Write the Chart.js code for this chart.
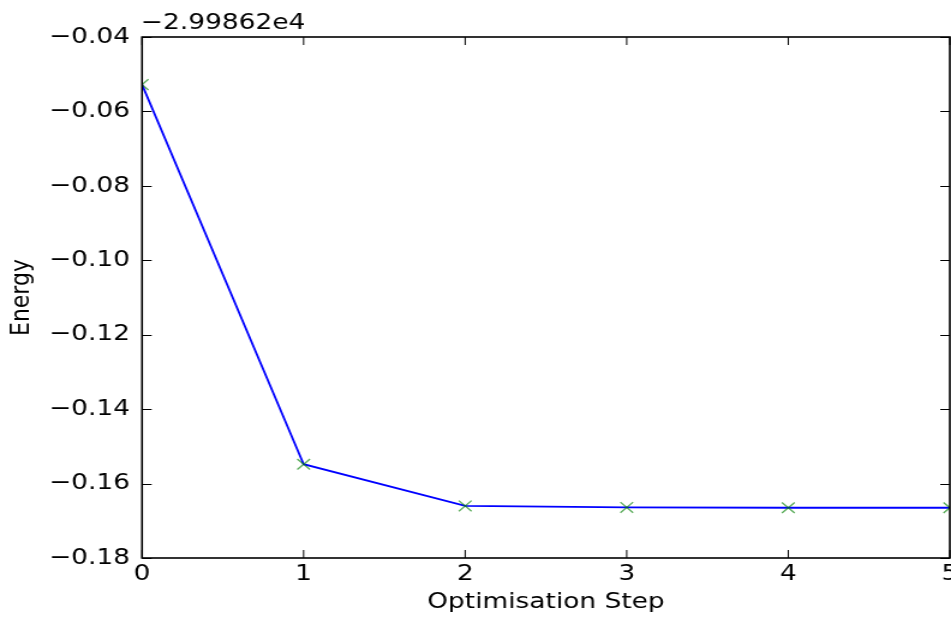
<!DOCTYPE html>
<html>
<head>
<meta charset="utf-8">
<script src="https://cdn.jsdelivr.net/npm/chart.js@4.4.1/dist/chart.umd.min.js"></script>
<style>
  html, body { margin: 0; padding: 0; background: #fff; overflow: hidden; }
  #wrap { width: 792px; height: 618px; transform: scaleX(1.2008); transform-origin: 0 0; }
  canvas { display: block; }
</style>
</head>
<body>
<div id="wrap"><canvas id="c" width="792" height="618" style="width:792px;height:618px"></canvas></div>
<script>
// ---- data ----
const steps = [0, 1, 2, 3, 4, 5];
const energy = [-0.0528, -0.1548, -0.1660, -0.1664, -0.1665, -0.1665];
const offsetText = '\u22122.99862e4';
const xTitle = 'Optimisation Step';
const yTitle = 'Energy';
const yTickMin = -0.18, yTickMax = -0.04, yTickStep = 0.02;
const xTickMin = 0, xTickMax = 5, xTickStep = 1;

const FONT = "'DejaVu Sans', sans-serif";

const frame = {
  id: 'frame',
  afterDraw(chart) {
    const { ctx, chartArea: a, scales } = chart;
    ctx.save();
    ctx.strokeStyle = '#000';
    ctx.lineWidth = 1;
    const L = 8;
    scales.y.ticks.forEach(t => {
      const y = Math.round(scales.y.getPixelForValue(t.value)) + 0.5;
      ctx.beginPath();
      ctx.moveTo(a.left, y); ctx.lineTo(a.left + L, y);
      ctx.moveTo(a.right, y); ctx.lineTo(a.right - L, y);
      ctx.stroke();
    });
    scales.x.ticks.forEach(t => {
      const x = scales.x.getPixelForValue(t.value);
      ctx.beginPath();
      ctx.moveTo(x, a.bottom); ctx.lineTo(x, a.bottom - L);
      ctx.moveTo(x, a.top); ctx.lineTo(x, a.top + L);
      ctx.stroke();
    });
    ctx.lineWidth = 1.6;
    ctx.strokeRect(a.left, a.top, a.right - a.left, a.bottom - a.top);
    ctx.fillStyle = '#000';
    ctx.font = '22px ' + FONT;
    ctx.textAlign = 'left';
    ctx.textBaseline = 'alphabetic';
    ctx.fillText(offsetText, a.left - 1, a.top - 8);
    ctx.restore();
  }
};

new Chart(document.getElementById('c'), {
  type: 'line',
  data: {
    labels: steps,
    datasets: [{
      data: steps.map((s, i) => ({ x: s, y: energy[i] })),
      borderColor: '#0000ff',
      borderWidth: 1.8,
      pointStyle: 'crossRot',
      pointRadius: 7.5,
      pointBorderColor: 'rgba(0,128,0,0.65)',
      pointBorderWidth: 1.3,
      pointBackgroundColor: 'rgba(0,0,0,0)',
      tension: 0,
      clip: 0
    }]
  },
  options: {
    responsive: false,
    animation: false,
    devicePixelRatio: 1,
    layout: { autoPadding: false, padding: { top: 37, right: 1, left: 0, bottom: 0 } },
    plugins: { legend: { display: false }, tooltip: { enabled: false } },
    scales: {
      x: {
        type: 'linear',
        min: xTickMin, max: xTickMax,
        grid: { display: false, drawTicks: false },
        border: { display: false },
        ticks: {
          stepSize: xTickStep, padding: 3, color: '#000',
          font: { family: FONT, size: 22 },
          maxRotation: 0
        },
        title: {
          display: true, text: xTitle, color: '#000',
          font: { family: FONT, size: 22 },
          padding: { top: 0, bottom: 3 }
        },
        afterFit(scale) { scale.height = 60; scale.paddingLeft = 0; scale.paddingRight = 0; }
      },
      y: {
        type: 'linear',
        min: yTickMin, max: yTickMax,
        grid: { display: false, drawTicks: false },
        border: { display: false },
        ticks: {
          stepSize: yTickStep, padding: 10, color: '#000',
          font: { family: FONT, size: 22 },
          callback: v => (v < 0 ? '\u2212' : '') + Math.abs(v).toFixed(2)
        },
        title: {
          display: true, text: yTitle, color: '#000',
          font: { family: FONT, size: 22 },
          padding: { top: 5, bottom: 0 }
        },
        afterFit(scale) { scale.width = 118.3; scale.paddingTop = 0; scale.paddingBottom = 0; }
      }
    }
  },
  plugins: [frame]
});
</script>
</body>
</html>
